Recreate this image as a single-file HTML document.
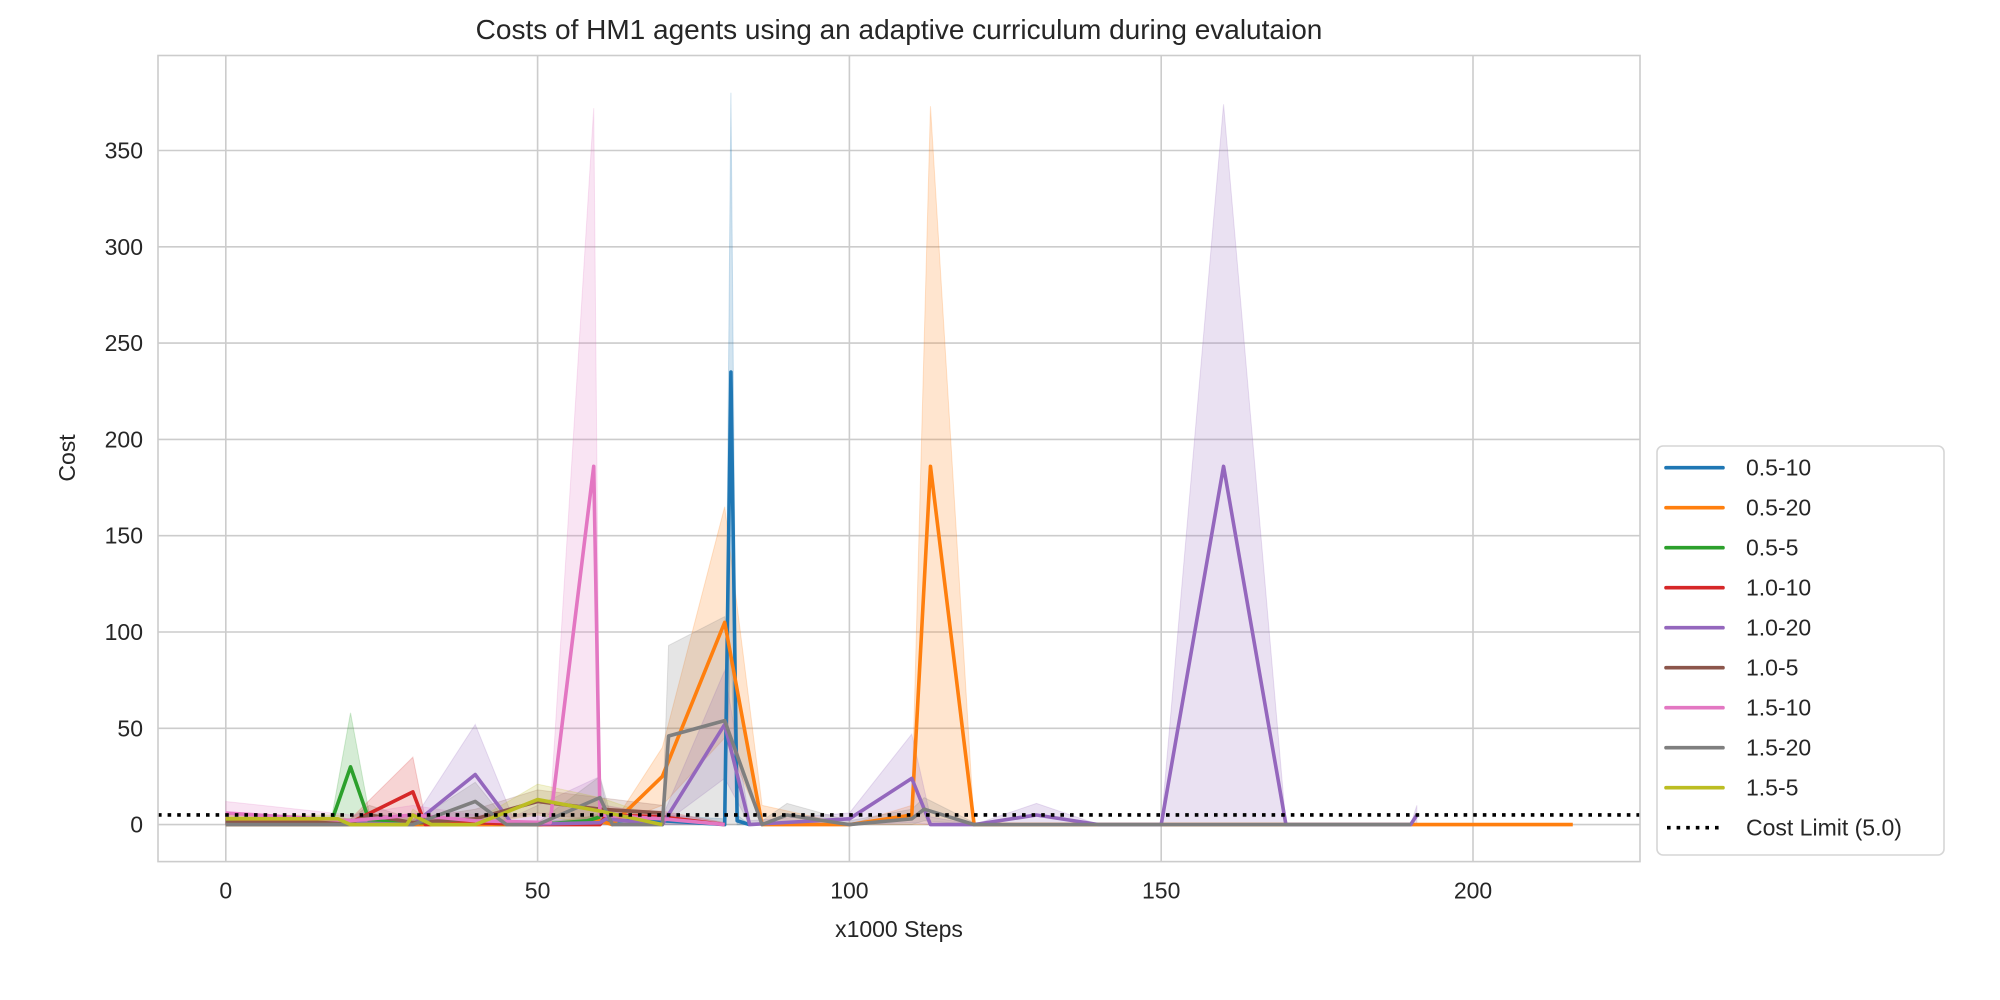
<!DOCTYPE html>
<html><head><meta charset="utf-8"><style>
body{margin:0;background:#fff;}
svg{display:block;font-family:"Liberation Sans",sans-serif;}
</style></head><body>
<svg id="chart" width="2000" height="1000">
<rect width="2000" height="1000" fill="#fff"/>
<g id="grid"></g><g id="bands"></g><g id="lines"></g><g id="axes"></g><g id="legend"></g>
</svg>
<script>
const seriesNames=["0.5-10","0.5-20","0.5-5","1.0-10","1.0-20","1.0-5","1.5-10","1.5-20","1.5-5"];
const seriesColors=["#1f77b4","#ff7f0e","#2ca02c","#d62728","#9467bd","#8c564b","#e377c2","#7f7f7f","#bcbd22"];
const xs0=[0,20,40,50,60,70,80,81,82,84];
const ys0=[0,0,0,0,2,2,0,235,2,0];
const hi0=[0,0,0,0,4,5,3,380,5,0];
const xs1=[0,20,40,50,60,62,70,80,86,100,110,113,120,140,160,190,216];
const ys1=[0,0,0,0,2,0,25,105,0,0,5,186,0,0,0,0,0];
const hi1=[0,0,0,0,5,0,40,165,10,0,10,373,0,0,0,0,0];
const xs2=[0,17,20,23,30,40,50,58,60];
const ys2=[2,2,30,2,1,1,0,2,4];
const hi2=[4,4,58,6,3,3,1,4,6];
const xs3=[0,20,30,32,40,50,60,61,70,80];
const ys3=[3,1,17,0,1,0,0,5,4,0];
const hi3=[6,3,35,3,3,1,1,8,7,1];
const xs4=[0,20,30,40,46,60,61,70,80,84,100,110,113,120,130,140,150,160,170,190,191];
const ys4=[1,1,0,26,0,1,3,0,52,0,3,24,0,0,5,0,0,186,0,0,5];
const hi4=[3,3,2,52,4,25,10,4,80,2,6,47,4,0,11,0,0,374,0,0,10];
const xs5=[0,20,23,30,40,50,60,70];
const ys5=[1,1,5,1,3,12,8,6];
const hi5=[3,3,10,3,8,18,14,10];
const xs6=[0,20,30,40,52,59,60,70,80];
const ys6=[6,2,5,2,1,186,5,3,0];
const hi6=[12,5,10,5,6,372,10,6,1];
const xs7=[0,20,30,40,45,50,60,62,70,71,80,86,90,100,110,112,120,130,150,190];
const ys7=[0,0,0,12,0,0,14,0,0,46,54,0,5,0,3,8,0,0,0,0];
const hi7=[1,1,1,22,2,1,25,2,2,93,108,2,11,2,8,14,1,0,0,0];
const xs8=[0,18,20,29,30,33,40,50,60,70];
const ys8=[3,3,0,0,5,0,0,13,7,0];
const hi8=[5,5,2,2,8,2,2,21,14,3];
const seriesX=[xs0,xs1,xs2,xs3,xs4,xs5,xs6,xs7,xs8];
const seriesY=[ys0,ys1,ys2,ys3,ys4,ys5,ys6,ys7,ys8];
const seriesHi=[hi0,hi1,hi2,hi3,hi4,hi5,hi6,hi7,hi8];
const xTicks=[0,50,100,150,200];
const yTicks=[0,50,100,150,200,250,300,350];
const costLimit=5;

const NS="http://www.w3.org/2000/svg";
const L=158,R=1640,T=55.5,B=861.6;
function X(v){return 225.8+v*6.236;}
function Y(v){return 824.6-v*1.926;}
function mk(tag,attrs,parent,text){const e=document.createElementNS(NS,tag);for(const k in attrs)e.setAttribute(k,attrs[k]);if(text!==undefined)e.textContent=text;parent.appendChild(e);return e;}
const grid=document.getElementById('grid'),bands=document.getElementById('bands'),lines=document.getElementById('lines'),axes=document.getElementById('axes'),legend=document.getElementById('legend');
xTicks.forEach(t=>{
  const g=mk('line',{x1:X(t),x2:X(t),y1:T,y2:B,stroke:'#cccccc','stroke-width':1.6},grid);
  
  
  const l=mk('text',{x:X(t),y:B+37,'text-anchor':'middle','font-size':23,fill:'#262626'},axes,t);
  
  
});
yTicks.forEach(t=>{
  const g=mk('line',{x1:L,x2:R,y1:Y(t),y2:Y(t),stroke:'#cccccc','stroke-width':1.6},grid);
  
  
  const l=mk('text',{x:L-15,y:Y(t)+8,'text-anchor':'end','font-size':23,fill:'#262626'},axes,t);
  
  
});
const frame=mk('rect',{x:L,y:T,width:R-L,height:B-T,fill:'none',stroke:'#cccccc','stroke-width':1.6},axes);


seriesNames.forEach((n,i)=>{
  const xs=seriesX[i],ys=seriesY[i],hi=seriesHi[i];
  let d='M'+xs.map((x,j)=>X(x)+','+Y(hi[j])).join('L');
  for(let j=xs.length-1;j>=0;j--){d+='L'+X(xs[j])+','+Y(Math.max(0,2*ys[j]-hi[j]));}
  const b=mk('path',{d:d+'Z',fill:seriesColors[i],'fill-opacity':0.2,stroke:seriesColors[i],'stroke-opacity':0.2},bands);
  
  
  const p=mk('polyline',{points:xs.map((x,j)=>X(x)+','+Y(ys[j])).join(' '),fill:'none',stroke:seriesColors[i],'stroke-width':3.6,'stroke-linejoin':'round'},lines);
  
  
});
const cl=mk('line',{x1:L,x2:R,y1:Y(costLimit),y2:Y(costLimit),stroke:'#000','stroke-width':3.6,'stroke-dasharray':'3.6,6'},lines);


const tt=mk('text',{x:899,y:39,'text-anchor':'middle','font-size':28,fill:'#262626'},axes,'Costs of HM1 agents using an adaptive curriculum during evalutaion');


const xl=mk('text',{x:899,y:937,'text-anchor':'middle','font-size':23,fill:'#262626'},axes,'x1000 Steps');


const yl=mk('text',{x:75,y:458,'text-anchor':'middle','font-size':23,fill:'#262626',transform:'rotate(-90 75 458)'},axes,'Cost');


const lb=mk('rect',{x:1657,y:446,width:287,height:409,rx:6,fill:'#fff',stroke:'#d6d6d6','stroke-width':1.6},legend);


seriesNames.concat(['Cost Limit (5.0)']).forEach((n,i)=>{
  const y=467.7+i*40;
  const g=mk('g',{},legend);
  
  
  if(i<seriesNames.length) mk('line',{x1:1666,x2:1723,y1:y,y2:y,stroke:seriesColors[i],'stroke-width':3.6,'stroke-linecap':'round'},g);
  else mk('line',{x1:1667,x2:1723,y1:y,y2:y,stroke:'#000','stroke-width':3.6,'stroke-dasharray':'3.6,6'},g);
  mk('text',{x:1746,y:y+8,'font-size':23,fill:'#262626'},g,n);
});
</script>
</body></html>
